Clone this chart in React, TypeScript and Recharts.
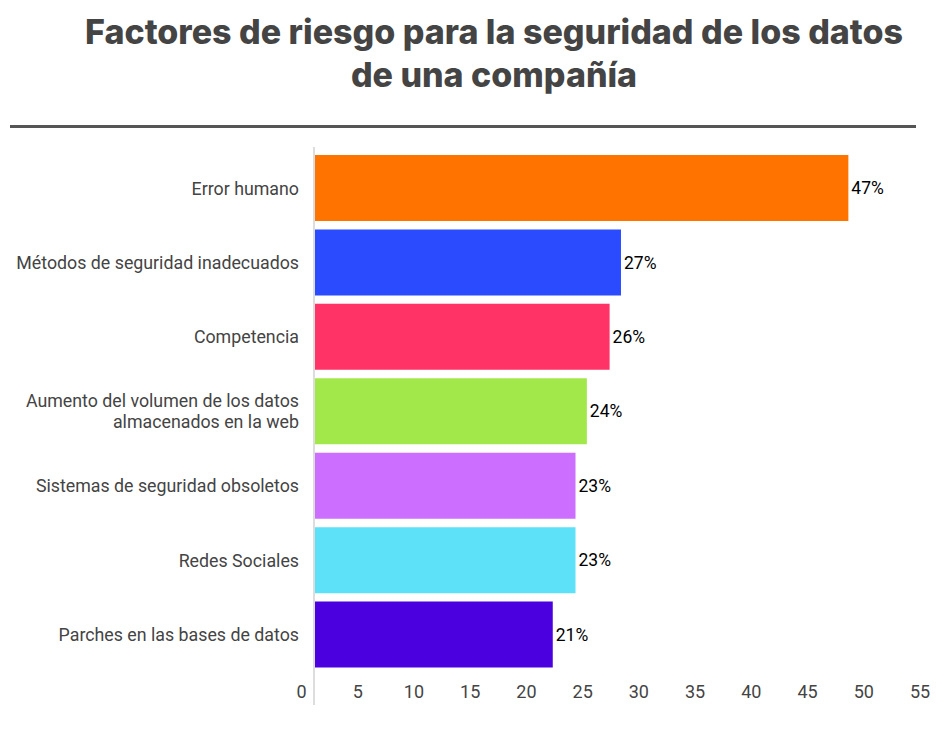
import React from "react";
import { Bar, BarChart, Cell, LabelList, XAxis, YAxis } from "recharts";

const factors = [
  "Error humano",
  "Métodos de seguridad inadecuados",
  "Competencia",
  "Aumento del volumen de los datos\nalmacenados en la web",
  "Sistemas de seguridad obsoletos",
  "Redes Sociales",
  "Parches en las bases de datos",
];
const shares = [47, 27, 26, 24, 23, 23, 21];
const barColors = ["#FF7300", "#2A4BFF", "#FF3366", "#A3E84A", "#CC6EFF", "#5CE1F8", "#4B00E0"];
const xTicks = [0, 5, 10, 15, 20, 25, 30, 35, 40, 45, 50, 55];

const data = factors.map((name, i) => ({ name, value: shares[i] }));

function CategoryTick(props: any) {
  const { x, y, payload } = props;
  const lines = String(payload.value).split("\n");
  const lh = 21;
  const start = -((lines.length - 1) * lh) / 2;
  return (
    <text x={x} y={y} textAnchor="end" fill="#444" fontSize={17.8} fontFamily="Roboto">
      {lines.map((l, i) => (
        <tspan key={i} x={x} y={y + start + i * lh} dy="0.36em">
          {l}
        </tspan>
      ))}
    </text>
  );
}

export default function App() {
  return (
    <div style={{ position: "absolute", left: 0, top: 0, width: 945, height: 733, background: "#fff" }}>
      <div
        style={{
          position: "absolute",
          left: 40,
          width: 908,
          top: 10,
          textAlign: "center",
          fontFamily: "Inter",
          fontWeight: 800,
          fontSize: 34,
          lineHeight: "43px",
          color: "#444",
        }}
      >
        Factores de riesgo para la seguridad de los datos
        <br />
        de una compañía
      </div>
      <div style={{ position: "absolute", left: 10, top: 125, width: 906, height: 3, background: "#555" }} />
      <div style={{ position: "absolute", left: 0, top: 0 }}>
        <BarChart
          width={945}
          height={733}
          data={data}
          layout="vertical"
          margin={{ top: 147, right: 25, bottom: 28, left: 0 }}
        >
          <XAxis xAxisId="bars" type="number" domain={[0, 53.3]} hide allowDataOverflow />
          <XAxis
            xAxisId="ticks"
            type="number"
            domain={[1.11, 55]}
            ticks={xTicks}
            interval={0}
            allowDataOverflow
            mirror
            height={30}
            axisLine={false}
            tickLine={false}
            tickMargin={1}
            tick={{ fill: "#444", fontSize: 18, fontFamily: "Roboto" }}
          />
          <YAxis
            type="category"
            dataKey="name"
            width={314}
            padding={{ top: 4, bottom: 33 }}
            axisLine={{ stroke: "#ddd", strokeWidth: 2 }}
            tickLine={false}
            tickMargin={9}
            interval={0}
            tick={<CategoryTick />}
          />
          <Bar xAxisId="bars" dataKey="value" barSize={66} isAnimationActive={false}>
            {data.map((d, i) => (
              <Cell key={d.name} fill={barColors[i]} />
            ))}
            <LabelList
              dataKey="value"
              position="right"
              offset={3}
              formatter={(v: any) => `${v}%`}
              fill="#000"
              fontSize={17.5}
              fontFamily="Roboto"
            />
          </Bar>
        </BarChart>
      </div>
    </div>
  );
}
